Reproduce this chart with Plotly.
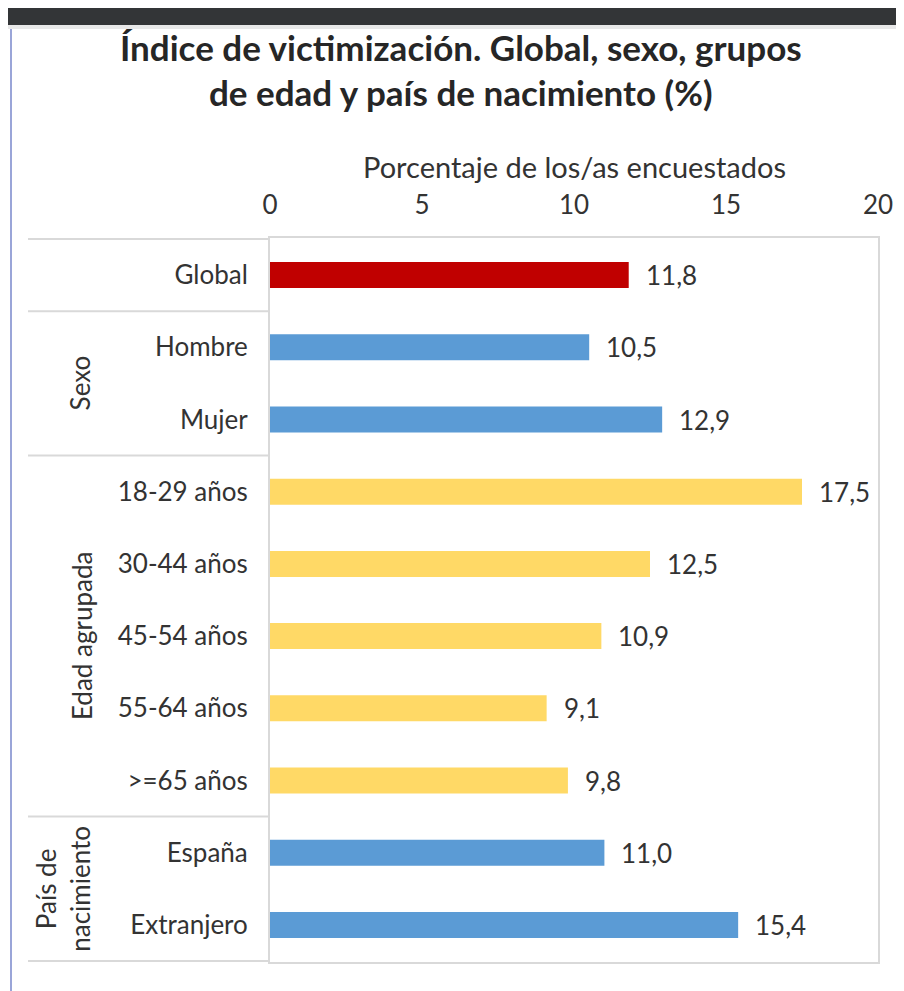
import plotly.graph_objects as go

categorias = ["Global", "Hombre", "Mujer", "18-29 años", "30-44 años", "45-54 años",
              "55-64 años", ">=65 años", "España", "Extranjero"]
valores = [11.8, 10.5, 12.9, 17.5, 12.5, 10.9, 9.1, 9.8, 11.0, 15.4]
grupos = ["Global", "Sexo", "Sexo", "Edad", "Edad", "Edad", "Edad", "Edad", "Pais", "Pais"]
nombres_grupo = {"Sexo": "Sexo", "Edad": "Edad agrupada", "Pais": "País de<br>nacimiento"}
colores_grupo = {"Global": "#C00000", "Sexo": "#5B9BD5", "Edad": "#FFD966", "Pais": "#5B9BD5"}
ticks_x = [0, 5, 10, 15, 20]

# la página tiene 8px de margen en el body
OFF = 8
W, H = 904 - OFF, 991 - OFF
L, R, T, B = 270 - OFF, 904 - 878, 238 - OFF, 991 - 962
pw, ph = W - L - R, H - T - B


def px(x):
    return (x - OFF - L) / pw


def py(y):
    return (H - B - (y - OFF)) / ph


fig = go.Figure()

fig.add_trace(go.Bar(
    x=valores, y=categorias, orientation="h",
    marker=dict(color=[colores_grupo[g] for g in grupos], line=dict(width=0)),
    width=0.36, hoverinfo="skip"
))

txt = dict(family="Lato", size=26, color="#333333")

annotations = []
for c, v in zip(categorias, valores):
    annotations.append(dict(
        x=v, y=c, xref="x", yref="y", text=f"{v:.1f}".replace(".", ","),
        showarrow=False, xanchor="left", xshift=15, font=txt
    ))

# etiquetas de grupo
idx = {}
for i, g in enumerate(grupos):
    idx.setdefault(g, []).append(i)
xpos = {"Sexo": 80, "Edad": 82, "Pais": 63}
for g, name in nombres_grupo.items():
    ii = idx[g]
    annotations.append(dict(
        x=px(xpos[g]), y=(ii[0] + ii[-1]) / 2, xref="paper", yref="y",
        xanchor="center", yanchor="middle",
        text=name, textangle=-90, showarrow=False, font=txt, align="center"
    ))

# título y título del eje
titulo = ["Índice de victimización. Global, sexo, grupos", "de edad y país de nacimiento (%)"]
for t, yy in zip(titulo, [47, 92]):
    annotations.append(dict(
        x=px(461), y=py(yy), xref="paper", yref="paper", text=t, showarrow=False,
        xanchor="center", yanchor="middle",
        font=dict(family="Lato", size=35, color="#262626", weight="bold")
    ))
annotations.append(dict(
    x=0.5, y=py(167), xref="paper", yref="paper", text="Porcentaje de los/as encuestados",
    showarrow=False, xanchor="center", yanchor="middle",
    font=dict(family="Lato", size=29, color="#333333")
))

shapes = []
# separadores
bordes = [-0.5]
for i in range(1, len(grupos)):
    if grupos[i] != grupos[i - 1]:
        bordes.append(i - 0.5)
bordes.append(len(grupos) - 0.5)
for b in bordes:
    shapes.append(dict(type="line", xref="paper", yref="y", x0=px(28), x1=0, y0=b, y1=b,
                       line=dict(color="#d9d9d9", width=2)))
# barra oscura superior y linea izquierda
shapes.append(dict(type="rect", xref="paper", yref="paper", x0=px(0), x1=px(904),
                   y0=py(25), y1=py(0), fillcolor="#333537", line=dict(width=0), layer="above"))
shapes.append(dict(type="rect", xref="paper", yref="paper", x0=px(0), x1=px(904),
                   y0=py(29), y1=py(25), fillcolor="#e8e8e8", line=dict(width=0), layer="above"))
shapes.append(dict(type="line", xref="paper", yref="paper", x0=px(11), x1=px(11),
                   y0=py(991), y1=py(29), line=dict(color="#9aa5d8", width=2)))

fig.update_layout(
    width=W, height=H,
    margin=dict(l=L, r=R, t=T, b=B),
    paper_bgcolor="white", plot_bgcolor="white",
    showlegend=False,
    xaxis=dict(
        side="top", range=[0, 20], tickvals=ticks_x, showgrid=False, zeroline=False,
        showline=True, mirror=True, linecolor="#d9d9d9", linewidth=2,
        tickfont=txt, ticklabelstandoff=12
    ),
    yaxis=dict(
        autorange="reversed", showgrid=False, showline=True, mirror=True,
        linecolor="#d9d9d9", linewidth=2, ticklabelstandoff=15, tickfont=txt
    ),
    annotations=annotations,
    shapes=shapes,
)

fig.write_html("out.html")
